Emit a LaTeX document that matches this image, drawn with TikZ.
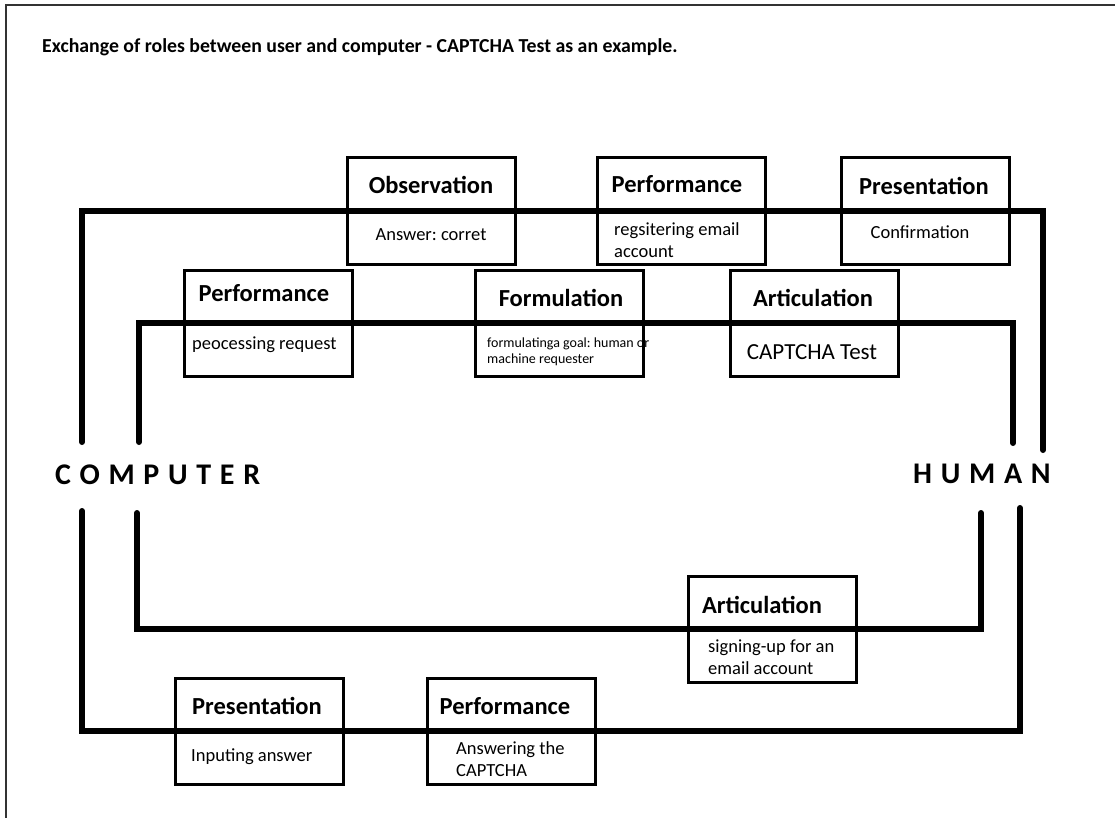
\documentclass[tikz,border=0pt]{standalone}
\usepackage{fontspec}
\setmainfont{Carlito}
\newfontfamily\spaced[LetterSpace=29]{Carlito}
\usepackage{tikz}
\frenchspacing
\tikzstyle{rolebox} = [draw, line width=3pt, minimum width=168pt, minimum height=106pt, inner sep=0pt]
\tikzstyle{head} = [inner sep=0pt, font=\fontsize{24.5}{28}\selectfont\bfseries]
\tikzstyle{note} = [inner sep=0pt, align=left, font=\fontsize{18.5}{22}\selectfont]
\tikzstyle{actor} = [inner sep=0pt, anchor=west, font=\spaced\fontsize{30}{32}\selectfont\bfseries]
\tikzstyle{wire} = [line width=6pt, line cap=round]

\begin{document}
\begin{tikzpicture}[x=1pt,y=-1pt]
\useasboundingbox (0,0) rectangle (1115,818);

\draw[line width=1.5pt, black!80] (6,818) -- (6,5) -- (1115,5);
\node[inner sep=0pt, anchor=west, font=\fontsize{19.8}{22}\selectfont\bfseries] (title) at (42,47)
  {Exchange of roles between user and computer - CAPTCHA Test as an example.};

\node[actor] (computer) at (55,475) {COMPUTER};
\node[actor] (human) at (913,474) {HUMAN};

\node[rolebox] (obsbox) at (431,211) {};
\node[rolebox] (regbox) at (681,211) {};
\node[rolebox] (confbox) at (925,211) {};
\node[rolebox] (procbox) at (268,323) {};
\node[rolebox] (goalbox) at (559,323) {};
\node[rolebox] (testbox) at (814,323) {};
\node[rolebox] (signbox) at (772,629) {};
\node[rolebox] (inputbox) at (259,731) {};
\node[rolebox] (answerbox) at (511,731) {};

\node[head] (obs) at (431,185) {Observation};
\node[note] (obsnote) at (431,235) {Answer: corret};
\node[head] (reg) at (677,184) {Performance};
\node[note, anchor=west] (regnote) at (614,240) {regsitering email\\account};
\node[head] (conf) at (924,186) {Presentation};
\node[note] (confnote) at (920,232) {Confirmation};

\node[head] (proc) at (264,293) {Performance};
\node[note, anchor=west] (procnote) at (192,345) {peocessing request};
\node[head] (goal) at (561,298) {Formulation};
\node[note, anchor=west, font=\fontsize{14}{16}\selectfont] (goalnote) at (487,352) {formulatinga goal: human or\\machine requester};
\node[head] (test) at (813,298) {Articulation};
\node[note, font=\fontsize{23}{26}\selectfont] (testnote) at (812,352) {CAPTCHA Test};

\node[head] (sign) at (762,605) {Articulation};
\node[note, anchor=west] (signnote) at (708,657) {signing-up for an\\email account};
\node[head] (input) at (257,706) {Presentation};
\node[note, anchor=west] (inputnote) at (191,757) {Inputing answer};
\node[head] (answer) at (505,706) {Performance};
\node[note, anchor=west] (answernote) at (456,759) {Answering the\\CAPTCHA};

\coordinate (c1) at (82,442);
\coordinate (c2) at (139,442);
\coordinate (c3) at (137,513);
\coordinate (c4) at (82,511);
\coordinate (h1) at (1043,450);
\coordinate (h2) at (1013,443);
\coordinate (h3) at (981,513);
\coordinate (h4) at (1020,508);

\draw[wire] (c1) |- (obsbox.center) -- (regbox.center) -- (confbox.center) -| (h1);
\draw[wire] (c2) |- (procbox.center) -- (goalbox.center) -- (testbox.center) -| (h2);
\draw[wire] (c3) |- (signbox.center) -| (h3);
\draw[wire] (c4) |- (inputbox.center) -- (answerbox.center) -| (h4);

\end{tikzpicture}
\end{document}
